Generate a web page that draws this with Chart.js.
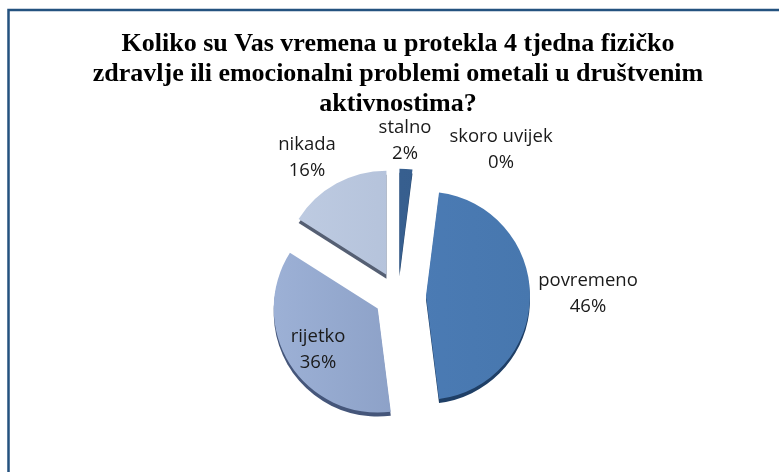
<!DOCTYPE html>
<html>
<head>
<meta charset="utf-8">
<style>
html, body { margin: 0; padding: 0; background: #fff; }
canvas { display: block; }
</style>
<script src="https://cdn.jsdelivr.net/npm/chart.js@4"></script>
</head>
<body>
<canvas id="pie" width="779" height="472"></canvas>
<script>
const categories = ['stalno', 'skoro uvijek', 'povremeno', 'rijetko', 'nikada'];
const shares = [2, 0, 46, 36, 16];
const titleLines = [
    'Koliko su Vas vremena u protekla 4 tjedna fizičko',
    'zdravlje ili emocionalni problemi ometali u društvenim',
    'aktivnostima?'
];

// how far each slice is pulled out of the pie
const explode = [23, 0, 28, 24, 24];
// light / dark side of each slice and the colour of its rim
const lightColors = ['#3a6496', '#3a6496', '#5080bc', '#9db1d6', '#c0cde3'];
const darkColors = ['#345a88', '#345a88', '#4777ae', '#7b90b8', '#a8b7d2'];
const rimColors = ['#2a4a70', '#2a4a70', '#1f3f66', '#45567a', '#555f73'];
// text anchors for the data labels (centre x, first line y)
const labelSpots = [[405, 128], [501, 137], [588, 281], [318, 337], [307, 145]];

const drawFrame = {
    id: 'drawFrame',
    beforeDraw(chart) {
        const ctx = chart.ctx;
        ctx.save();
        ctx.strokeStyle = '#24527f';
        ctx.lineWidth = 2.5;
        ctx.beginPath();
        ctx.moveTo(779, 10);
        ctx.lineTo(8.5, 10);
        ctx.lineTo(8.5, 472);
        ctx.stroke();
        ctx.restore();
    }
};

// pull the slices apart, the library only has its own offset which also grows the radius
const explodeSlices = {
    id: 'explodeSlices',
    afterDatasetsUpdate(chart) {
        chart.getDatasetMeta(0).data.forEach((arc, i) => {
            const mid = (arc.startAngle + arc.endAngle) / 2;
            arc.x += Math.cos(mid) * explode[i];
            arc.y += Math.sin(mid) * explode[i];
        });
    }
};

// thin dark edge under each slice for the 3D look
const sliceRim = {
    id: 'sliceRim',
    beforeDatasetsDraw(chart) {
        const ctx = chart.ctx;
        chart.getDatasetMeta(0).data.forEach((arc, i) => {
            if (arc.circumference === 0) return;
            ctx.save();
            ctx.fillStyle = rimColors[i];
            ctx.beginPath();
            ctx.moveTo(arc.x, arc.y + 4);
            ctx.arc(arc.x, arc.y + 4, arc.outerRadius, arc.startAngle, arc.endAngle);
            ctx.closePath();
            ctx.fill();
            ctx.restore();
        });
    }
};

const sliceLabels = {
    id: 'sliceLabels',
    afterDraw(chart) {
        const ctx = chart.ctx;
        ctx.save();
        ctx.fillStyle = '#1a1a1a';
        ctx.font = '18.5px "Open Sans"';
        ctx.textAlign = 'center';
        ctx.textBaseline = 'middle';
        categories.forEach((name, i) => {
            const [x, y] = labelSpots[i];
            ctx.fillText(name, x, y);
            ctx.fillText(shares[i] + '%', x, y + 26);
        });
        ctx.restore();
    }
};

const sliceFill = (context) => {
    const i = context.dataIndex;
    const area = context.chart.chartArea;
    if (!area) return lightColors[i];
    const g = context.chart.ctx.createLinearGradient(270, 0, 530, 0);
    g.addColorStop(0, lightColors[i]);
    g.addColorStop(1, darkColors[i]);
    return g;
};

const chartPie = new Chart(document.getElementById('pie'), {
    type: 'pie',
    data: {
        labels: categories,
        datasets: [{
            data: shares,
            backgroundColor: sliceFill,
            borderWidth: 0,
            radius: 104
        }]
    },
    options: {
        responsive: false,
        animation: false,
        devicePixelRatio: 1,
        layout: {
            padding: { left: 17, right: 0, top: 8, bottom: 0 }
        },
        plugins: {
            legend: { display: false },
            tooltip: { enabled: false },
            title: {
                display: true,
                text: titleLines,
                color: '#000000',
                font: { family: '"Liberation Serif"', size: 26, weight: 'bold', lineHeight: 1.16 },
                padding: { top: 21, bottom: 0 }
            }
        }
    },
    plugins: [drawFrame, explodeSlices, sliceRim, sliceLabels]
});
</script>
</body>
</html>
